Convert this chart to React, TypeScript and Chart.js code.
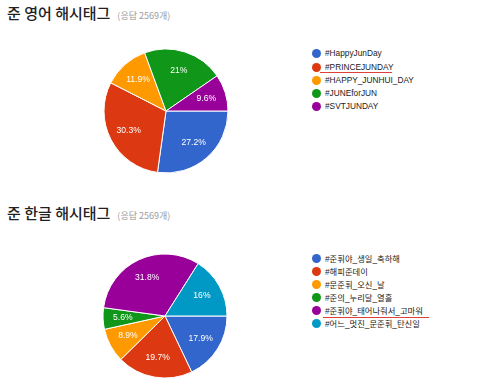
import React, { useEffect, useRef } from "react";
import { Chart, registerables } from "chart.js";

Chart.register(...registerables);

const colors1 = ["#3366cc", "#dc3912", "#ff9900", "#109618", "#990099"];
const labels1 = ["#HappyJunDay", "#PRINCEJUNDAY", "#HAPPY_JUNHUI_DAY", "#JUNEforJUN", "#SVTJUNDAY"];
const values1 = [27.2, 30.3, 11.9, 21, 9.6];
const title1 = "준 영어 해시태그";

const colors2 = ["#3366cc", "#dc3912", "#ff9900", "#109618", "#990099", "#0099c6"];
const labels2 = ["#준휘야_생일_축하해", "#해피준데이", "#문준휘_오신_날", "#준의_누리달_열흘", "#준휘야_태어나줘서_고마워", "#어느_멋진_문준휘_탄신일"];
const values2 = [17.9, 19.7, 8.9, 5.6, 31.8, 16];
const title2 = "준 한글 해시태그";

const responses = "(응답 2569개)";

const labelPlugin = {
  id: "pctLabels",
  afterDatasetsDraw(chart: any) {
    const ctx = chart.ctx;
    const meta = chart.getDatasetMeta(0);
    const data = chart.data.datasets[0].data;
    ctx.save();
    ctx.fillStyle = "#ffffff";
    ctx.font = "8.6px 'Liberation Sans', Arial, sans-serif";
    ctx.textAlign = "center";
    ctx.textBaseline = "middle";
    meta.data.forEach((arc: any, i: number) => {
      const p = arc.getProps(["x", "y", "startAngle", "endAngle", "outerRadius"], true);
      const mid = (p.startAngle + p.endAngle) / 2;
      const r = p.outerRadius * 0.68;
      ctx.fillText(data[i] + "%", p.x + Math.cos(mid) * r, p.y + Math.sin(mid) * r);
    });
    ctx.restore();
  },
};

function Pie({ values, colors, left, top }: { values: number[]; colors: string[]; left: number; top: number }) {
  const ref = useRef<HTMLCanvasElement>(null);
  useEffect(() => {
    const chart = new Chart(ref.current!, {
      type: "pie",
      data: {
        labels: values.map((_, i) => String(i)),
        datasets: [
          {
            data: values,
            backgroundColor: colors,
            borderColor: "#ffffff",
            borderWidth: 1,
            hoverOffset: 0,
          },
        ],
      },
      options: {
        responsive: false,
        animation: false,
        rotation: 90,
        radius: 62,
        plugins: { legend: { display: false }, tooltip: { enabled: false } },
      },
      plugins: [labelPlugin],
    });
    return () => chart.destroy();
  }, []);
  return (
    <canvas
      ref={ref}
      width={130}
      height={130}
      style={{ position: "absolute", left, top, width: 130, height: 130 }}
    />
  );
}

function Legend({ labels, colors, top, spacing, underline }: { labels: string[]; colors: string[]; top: number; spacing: number; underline: { idx: number; x1: number; x2: number; y: number } }) {
  return (
    <>
      {labels.map((l, i) => (
        <div key={i} style={{ position: "absolute", left: 312, top: Math.round(top + i * spacing - 7), height: 14, display: "flex", alignItems: "center" }}>
          <span style={{ display: "inline-block", width: 9, height: 9, borderRadius: "50%", background: colors[i], marginRight: 4 }} />
          <span style={{ font: "8.3px 'Liberation Sans', 'Noto Sans CJK KR', Arial, sans-serif", color: "#222", whiteSpace: "nowrap" }}>{l}</span>
        </div>
      ))}
      <div style={{ position: "absolute", zIndex: 2, left: underline.x1, top: underline.y, width: underline.x2 - underline.x1, height: 1, background: "#e0403a" }} />
    </>
  );
}

function Title({ text, top }: { text: string; top: number }) {
  return (
    <div style={{ position: "absolute", left: 7, top, whiteSpace: "nowrap", display: "flex", alignItems: "baseline" }}>
      <span style={{ font: "500 15px 'Noto Sans CJK KR', sans-serif", color: "#202124" }}>{text}</span>
      <span style={{ font: "9px 'Noto Sans CJK KR', sans-serif", color: "#9a9a9a", marginLeft: 7 }}>{responses}</span>
    </div>
  );
}

export default function App() {
  return (
    <div style={{ position: "absolute", left: 0, top: 0, width: 480, height: 389, background: "#fff", overflow: "hidden" }}>
      <Title text={title1} top={2} />
      <Pie values={values1} colors={colors1} left={101} top={46} />
      <Legend labels={labels1} colors={colors1} top={53.3} spacing={13.2} underline={{ idx: 1, x1: 320, x2: 392, y: 72 }} />
      <Title text={title2} top={202} />
      <Pie values={values2} colors={colors2} left={100} top={251} />
      <Legend labels={labels2} colors={colors2} top={258.3} spacing={13} underline={{ idx: 4, x1: 323, x2: 429, y: 317 }} />
    </div>
  );
}
